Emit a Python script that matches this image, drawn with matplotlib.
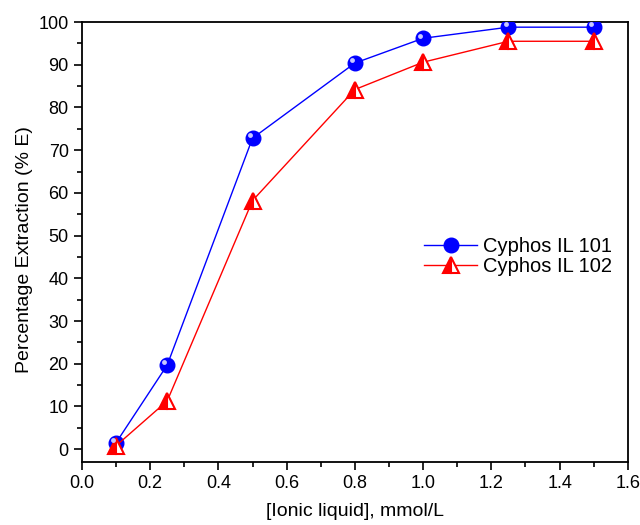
import matplotlib
matplotlib.use("Agg")
import matplotlib.pyplot as plt
from matplotlib.ticker import MultipleLocator

plt.rcParams['font.family'] = ['Liberation Sans', 'DejaVu Sans']

x = [0.1, 0.25, 0.5, 0.8, 1.0, 1.25, 1.5]
il101 = [1.5, 19.7, 72.8, 90.4, 96.2, 98.8, 98.8]
il102 = [0.8, 11.3, 58.2, 84.2, 90.6, 95.5, 95.5]

fig = plt.figure(figsize=(6.4, 5.25), dpi=100)
ax = fig.add_axes([0.128, 0.12, 0.853, 0.838])

ax.plot(x, il101, color='blue', lw=1, marker='o', ms=10.5, mfc='blue', mec='blue',
        label='Cyphos IL 101', zorder=3)
ax.plot(x, il101, ls='none', marker='o', ms=3.5, mfc='#c8c8ff', mec='none', zorder=4,
        transform=ax.transData + matplotlib.transforms.ScaledTranslation(-2/72, 2/72, fig.dpi_scale_trans))
ax.plot(x, il102, color='red', lw=1, marker='^', ms=11, mfc='red', mec='red',
        fillstyle='left', markerfacecoloralt='white', mew=1.5, label='Cyphos IL 102', zorder=3)

ax.set_xlim(0, 1.6)
ax.set_ylim(-3, 100)
ax.xaxis.set_major_locator(MultipleLocator(0.2))
ax.xaxis.set_minor_locator(MultipleLocator(0.1))
ax.yaxis.set_major_locator(MultipleLocator(10))
ax.yaxis.set_minor_locator(MultipleLocator(5))
ax.tick_params(which='major', direction='out', length=6, width=1.2, labelsize=13, top=False, right=False)
ax.tick_params(which='minor', direction='out', length=3.5, width=1.2, top=False, right=False)
for s in ax.spines.values():
    s.set_linewidth(1.3)

ax.set_xlabel('[Ionic liquid], mmol/L', fontsize=14, labelpad=8)
ax.set_ylabel('Percentage Extraction (% E)', fontsize=14)
ax.yaxis.set_label_coords(-0.09, 0.482)

ax.legend(loc='upper left', bbox_to_anchor=(0.612, 0.53), frameon=False, fontsize=14.5,
          handlelength=2.63, handletextpad=0.3, labelspacing=0.05, borderaxespad=0)

fig.savefig('out.png', dpi=100)
